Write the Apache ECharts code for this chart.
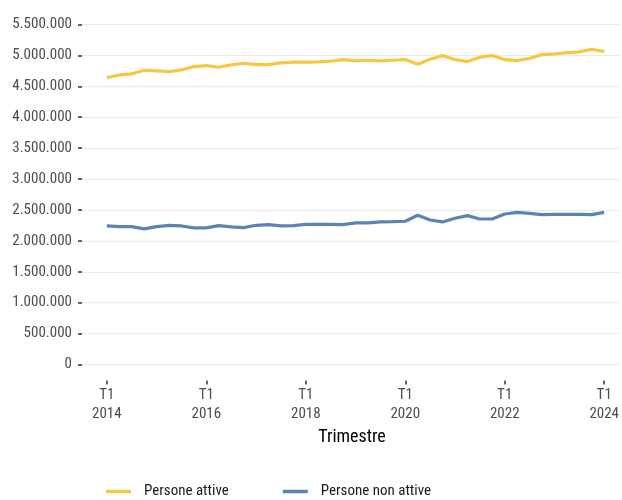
<!DOCTYPE html>
<html>
<head>
<meta charset="utf-8">
<script src="https://cdn.jsdelivr.net/npm/echarts@6/dist/echarts.min.js"></script>
<style>
html,body{margin:0;padding:0;background:#fff;}
#chart{width:622px;height:500px;}
</style>
</head>
<body>
<div id="chart"></div>
<script>
// Quarterly index: 0 = T1 2014 ... 40 = T1 2024
const personeAttive = [
  4641000, 4684000, 4701000, 4760000, 4749000, 4738000, 4765000, 4819000,
  4835000, 4809000, 4846000, 4873000, 4851000, 4851000, 4879000, 4890000,
  4890000, 4895000, 4906000, 4932000, 4911000, 4922000, 4911000, 4922000,
  4932000, 4857000, 4938000, 4997000, 4932000, 4900000, 4971000, 4997000,
  4932000, 4916000, 4954000, 5013000, 5024000, 5046000, 5057000, 5100000,
  5062000
];
const personeNonAttive = [
  2241000, 2230000, 2230000, 2193000, 2230000, 2252000, 2241000, 2209000,
  2209000, 2246000, 2225000, 2214000, 2252000, 2262000, 2241000, 2246000,
  2268000, 2268000, 2268000, 2262000, 2290000, 2290000, 2306000, 2311000,
  2317000, 2414000, 2338000, 2306000, 2365000, 2408000, 2354000, 2354000,
  2435000, 2462000, 2446000, 2424000, 2430000, 2430000, 2430000, 2424000,
  2462000
];
const xTickIndex = [0, 8, 16, 24, 32, 40];
const xTickLabels = ['T1\n2014', 'T1\n2016', 'T1\n2018', 'T1\n2020', 'T1\n2022', 'T1\n2024'];
const seriesNames = ['Persone attive', 'Persone non attive'];
const xTitle = 'Trimestre';

const FONT = "'Roboto Condensed', 'Liberation Sans Narrow', sans-serif";
function fmt(v) { return String(Math.round(v)).replace(/\B(?=(\d{3})+(?!\d))/g, '.'); }

const chart = echarts.init(document.getElementById('chart'), null, { renderer: 'canvas' });
chart.setOption({
  animation: false,
  textStyle: { fontFamily: FONT },
  grid: { left: 82, top: 24.5, width: 540, height: 340, containLabel: false },
  xAxis: {
    type: 'value', min: -2, max: 41.2,
    offset: 16,
    axisLine: { show: false, onZero: false },
    splitLine: { show: false },
    axisTick: { show: true, length: 4, lineStyle: { color: '#333', width: 1.5 }, customValues: xTickIndex },
    axisLabel: {
      customValues: xTickIndex,
      formatter: v => xTickLabels[xTickIndex.indexOf(Math.round(v))] || '',
      color: '#4d4d4d', fontSize: 15, lineHeight: 19, margin: 5, fontFamily: FONT
    }
  },
  yAxis: {
    type: 'value', min: 0, max: 5500000, interval: 500000,
    axisLine: { show: false, onZero: false },
    axisTick: { show: true, length: 4, lineStyle: { color: '#333', width: 1.5 } },
    axisLabel: { formatter: fmt, color: '#4d4d4d', fontSize: 15, margin: 10, fontFamily: FONT },
    splitLine: { show: true, lineStyle: { color: '#ebebeb', width: 1.2 } }
  },
  legend: {
    left: 101, top: 479,
    itemWidth: 25, itemHeight: 3.5, itemGap: 54,
    icon: 'rect',
    textStyle: { fontSize: 15, color: '#1a1a1a', fontFamily: FONT, padding: [0, 0, 0, 8] },
    data: seriesNames
  },
  graphic: [{
    type: 'text',
    style: { text: xTitle, fontSize: 18, fill: '#000', fontFamily: FONT, x: 352, y: 437, textAlign: 'center', textVerticalAlign: 'middle' }
  }],
  series: [
    {
      name: seriesNames[0], type: 'line', showSymbol: false, symbol: 'none',
      data: personeAttive.map((v, i) => [i, v]),
      lineStyle: { color: '#f5c844', width: 3.2 }, itemStyle: { color: '#f5c844' }
    },
    {
      name: seriesNames[1], type: 'line', showSymbol: false, symbol: 'none',
      data: personeNonAttive.map((v, i) => [i, v]),
      lineStyle: { color: '#5b84b1', width: 3.2 }, itemStyle: { color: '#5b84b1' }
    }
  ]
});
</script>
</body>
</html>
